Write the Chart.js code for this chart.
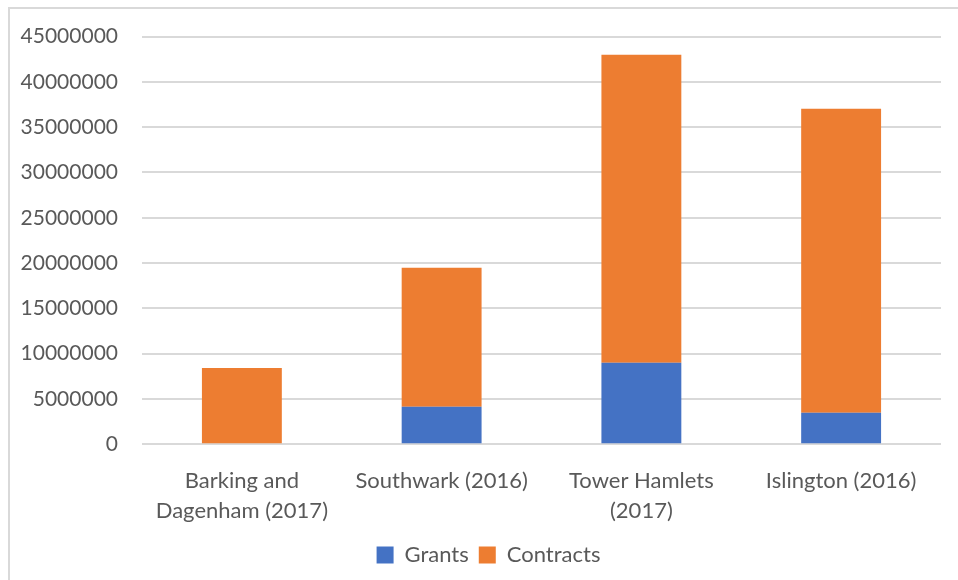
<!DOCTYPE html>
<html>
<head>
<meta charset="utf-8">
<script src="https://cdn.jsdelivr.net/npm/chart.js@4"></script>
<style>
  html, body { margin: 0; padding: 0; background: #fff; }
  #wrap { position: relative; width: 958px; height: 580px; overflow: hidden; }
  #frame { position: absolute; left: 8px; top: 7px; width: 1000px; height: 700px;
           border-top: 2px solid #d9d9d9; border-left: 2px solid #d9d9d9; }
  #chart { position: absolute; left: 0; top: 0; }
</style>
</head>
<body>
<div id="wrap">
  <div id="frame"></div>
  <canvas id="chart" width="958" height="580"></canvas>
</div>
<script>
const labels = [
  ['Barking and', 'Dagenham (2017)'],
  'Southwark (2016)',
  ['Tower Hamlets', '(2017)'],
  'Islington (2016)'
]
const grants = [0, 4120000, 8980000, 3460000]
const contracts = [8400000, 15360000, 34020000, 33580000]

const textColor = '#595959'
const gridColor = '#d9d9d9'

Chart.defaults.font.family = 'Lato, "DejaVu Sans", sans-serif'
Chart.defaults.font.size = 22
Chart.defaults.color = textColor

// legend in the original sits a bit right of the canvas centre
const shiftLegend = {
  id: 'shiftLegend',
  afterLayout(chart) {
    const lg = chart.legend
    if (lg) {
      lg.left += 18
      lg.right += 18
      lg.top -= 6
      lg.bottom -= 6
    }
  }
}

new Chart(document.getElementById('chart'), {
  type: 'bar',
  data: {
    labels: labels,
    datasets: [
      { label: 'Grants', data: grants, backgroundColor: '#4472C4' },
      { label: 'Contracts', data: contracts, backgroundColor: '#ED7D31' }
    ]
  },
  options: {
    responsive: false,
    animation: false,
    layout: { padding: { left: 0, right: 17, top: 35, bottom: -2 } },
    datasets: {
      bar: { categoryPercentage: 1, barPercentage: 0.4, borderWidth: 0 }
    },
    plugins: {
      tooltip: { enabled: false },
      legend: {
        position: 'bottom',
        labels: {
          boxWidth: 17,
          boxHeight: 17,
          padding: 10,
          font: { size: 22 },
          color: textColor
        }
      }
    },
    scales: {
      x: {
        stacked: true,
        grid: { display: false },
        border: { display: false },
        ticks: { padding: 14, maxRotation: 0, autoSkip: false, font: { size: 22, lineHeight: 1.36 } }
      },
      y: {
        stacked: true,
        min: 0,
        max: 45000000,
        afterFit: function(scale) { scale.width = 142 },
        grid: { color: gridColor, lineWidth: 2, drawTicks: false },
        border: { display: false },
        ticks: {
          stepSize: 5000000,
          padding: 24,
          font: { size: 21 },
          callback: function(value) { return String(value) }
        }
      }
    }
  },
  plugins: [shiftLegend]
})
</script>
</body>
</html>
